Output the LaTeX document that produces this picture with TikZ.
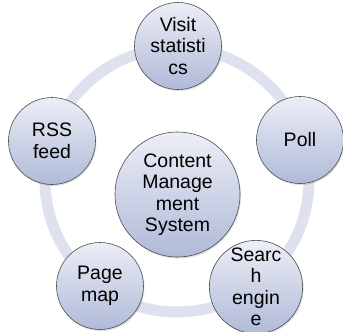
\documentclass[tikz,border=0pt]{standalone}
\usepackage{fontspec}
\setmainfont{Liberation Sans}
\usetikzlibrary{shadows}
\definecolor{ringblue}{RGB}{222,226,238}
\definecolor{toptint}{RGB}{236,238,246}
\definecolor{bottint}{RGB}{176,186,216}
\tikzset{
  bubble/.style={circle, draw=black!70, line width=0.6pt, top color=toptint, bottom color=bottint,
    minimum size=87pt, inner sep=0pt, align=center, font=\fontsize{19.5}{21.5}\selectfont,
    drop shadow={shadow xshift=1pt, shadow yshift=-1.5pt, opacity=0.25}},
  hub/.style={bubble, minimum size=125pt}
}
\begin{document}
\begin{tikzpicture}[x=1pt, y=-1pt]
  \useasboundingbox (0,0) rectangle (343,332);
  \coordinate (mid) at (177,180);
  \draw[ringblue, line width=11pt] (mid) circle (132pt);
  \node[hub] (cms) at (177.5,194.5) {Content\\Manage\\ment\\System};
  \node[bubble] (visit) at (178,46) {Visit\\statisti\\cs};
  \node[bubble] (poll) at (300,140) {Poll};
  \node[bubble] (search) at (256,287) {Searc\\h\\engin\\e};
  \node[bubble] (pagemap) at (100,286) {Page\\map};
  \node[bubble] (rss) at (52,141) {RSS\\feed};
\end{tikzpicture}
\end{document}
